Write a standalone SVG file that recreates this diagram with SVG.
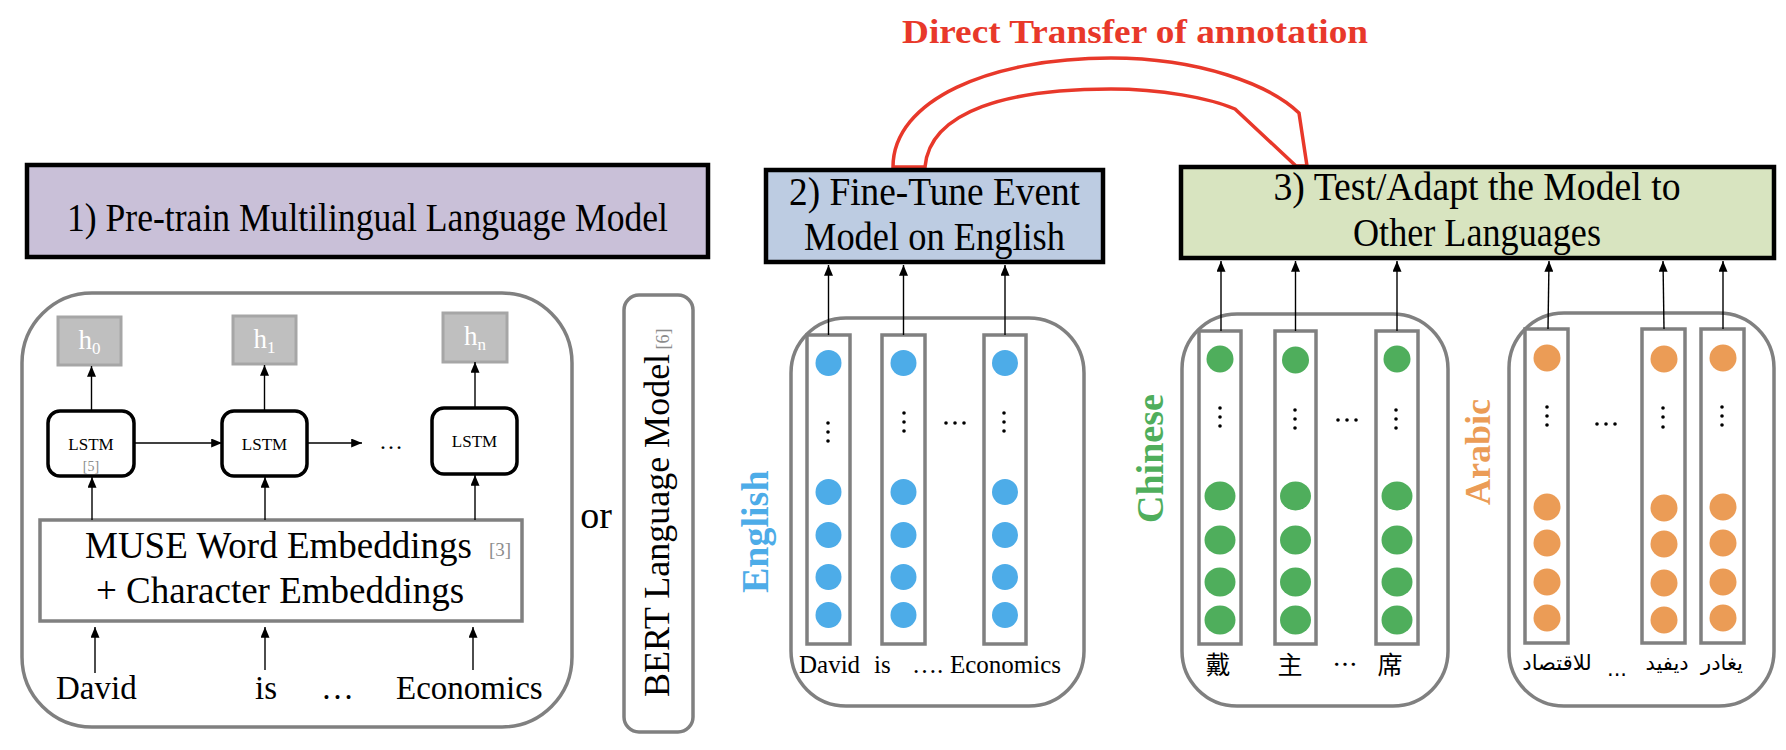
<svg xmlns="http://www.w3.org/2000/svg" width="1786" height="750" viewBox="0 0 1786 750">
<defs>
<marker id="ah" viewBox="0 0 12 10" refX="12" refY="5" markerWidth="11" markerHeight="9" markerUnits="userSpaceOnUse" orient="auto"><path d="M0,0 L12,5 L0,10 z" fill="#000"/></marker>
</defs>
<style>
.serif{font-family:"Liberation Serif","Times New Roman",serif;fill:#000}
.box{stroke:#000;stroke-width:4.5}
.cont{fill:none;stroke:#808080;stroke-width:3.5}
.col{fill:#fff;stroke:#808080;stroke-width:3.5}
.arr{stroke:#000;stroke-width:1.4;fill:none;marker-end:url(#ah)}
.hbox{fill:#BFBFBF;stroke:#A6A6A6;stroke-width:3}
.htxt{font-family:"Liberation Serif",serif;fill:#fff;font-size:27px}
.lstm{fill:#fff;stroke:#000;stroke-width:3.5}
.ref{fill:#8c8c8c}
.bd{fill:#4DACE8}.gd{fill:#4FAE5C}.od{fill:#EB9C56}
.dot{fill:#000}
.lbl{font-family:"Liberation Serif",serif;font-weight:bold}
.cjk{font-family:"Noto Sans CJK SC",sans-serif;font-size:25px;fill:#000}
.ar{font-family:"DejaVu Sans",sans-serif;font-size:21px;fill:#000}
</style>

<g id="transfer">
<text x="902" y="43" font-family="Liberation Serif, serif" font-weight="bold" font-size="33" fill="#E8382A" textLength="466" lengthAdjust="spacingAndGlyphs">Direct Transfer of annotation</text>
<path d="M893,167 C893,100 990,58 1111,58 C1200,58 1270,85 1299,113 L1307,166 L1296,166 L1235,109 C1210,98 1160,89 1111,89 C1010,89 930,110 925,167 Z" fill="none" stroke="#E8382A" stroke-width="3.5" stroke-linejoin="miter"/>
</g>

<g id="step1">
<rect x="27" y="165" width="681" height="92" fill="#C9C0D8" class="box"/>
<text class="serif" x="367.5" y="231" font-size="41" text-anchor="middle" textLength="601" lengthAdjust="spacingAndGlyphs">1) Pre-train Multilingual Language Model</text>
</g>

<g id="step2">
<rect x="766" y="170" width="337" height="92" fill="#BDCCE2" class="box"/>
<text class="serif" x="934.5" y="205" font-size="39" text-anchor="middle" textLength="291" lengthAdjust="spacingAndGlyphs">2) Fine-Tune Event</text>
<text class="serif" x="934.5" y="250" font-size="39" text-anchor="middle" textLength="261" lengthAdjust="spacingAndGlyphs">Model on English</text>
</g>

<g id="step3">
<rect x="1181" y="167" width="593" height="91" fill="#D8E4C0" class="box"/>
<text class="serif" x="1477" y="200" font-size="39" text-anchor="middle" textLength="407" lengthAdjust="spacingAndGlyphs">3) Test/Adapt the Model to</text>
<text class="serif" x="1477" y="246" font-size="39" text-anchor="middle" textLength="248" lengthAdjust="spacingAndGlyphs">Other Languages</text>
</g>

<g id="lstm-model">
<rect x="22" y="293" width="550" height="434" rx="70" class="cont"/>
<g id="h0"><rect x="58" y="317" width="63" height="48" class="hbox"/><text class="htxt" x="89.5" y="349" text-anchor="middle">h<tspan font-size="17" dy="5">0</tspan></text></g>
<g id="h1"><rect x="233" y="316" width="63" height="48" class="hbox"/><text class="htxt" x="264.5" y="348" text-anchor="middle">h<tspan font-size="17" dy="5">1</tspan></text></g>
<g id="hn"><rect x="443" y="313" width="64" height="49" class="hbox"/><text class="htxt" x="475" y="345" text-anchor="middle">h<tspan font-size="17" dy="5">n</tspan></text></g>
<g id="lstm1"><rect x="48" y="411" width="86" height="65" rx="12" class="lstm"/><text class="serif" x="91" y="450" font-size="17" text-anchor="middle">LSTM</text><text class="ref" font-family="Liberation Serif, serif" x="91" y="471" font-size="14" text-anchor="middle">[5]</text></g>
<g id="lstm2"><rect x="222" y="411" width="85" height="65" rx="12" class="lstm"/><text class="serif" x="264.5" y="450" font-size="17" text-anchor="middle">LSTM</text></g>
<g id="lstm3"><rect x="432" y="408" width="85" height="66" rx="12" class="lstm"/><text class="serif" x="474.5" y="447" font-size="17" text-anchor="middle">LSTM</text></g>
<text class="serif" x="391" y="449" font-size="24" text-anchor="middle">…</text>
<g id="muse"><rect x="40" y="520" width="482" height="101" fill="#fff" stroke="#808080" stroke-width="3.5"/>
<text class="serif" x="85" y="558" font-size="37">MUSE Word Embeddings</text>
<text class="ref" font-family="Liberation Serif, serif" x="489" y="556" font-size="19">[3]</text>
<text class="serif" x="96" y="603" font-size="37">+ Character Embeddings</text></g>
<text class="serif" x="56" y="699" font-size="33">David</text>
<text class="serif" x="255" y="699" font-size="33">is</text>
<text class="serif" x="321" y="699" font-size="33">…</text>
<text class="serif" x="396" y="699" font-size="33">Economics</text>
</g>

<text id="or" class="serif" x="596" y="528" font-size="38" text-anchor="middle">or</text>

<g id="bert">
<rect x="624" y="295" width="69" height="437" rx="15" fill="#fff" stroke="#808080" stroke-width="3.5"/>
<text class="serif" transform="translate(669,697) rotate(-90)" font-size="36">BERT Language Model<tspan class="ref" font-size="18"> [6]</tspan></text>
</g>

<g id="english">
<text class="lbl" transform="translate(768,593) rotate(-90)" font-size="38" fill="#4DACE8">English</text>
<rect x="791" y="318" width="293" height="388" rx="55" class="cont"/>
<rect x="807" y="335" width="43" height="309" class="col"/>
<rect x="882" y="335" width="43" height="309" class="col"/>
<rect x="984" y="335" width="42" height="309" class="col"/>
<g class="bd">
<circle cx="828.5" cy="363" r="13"/><circle cx="828.5" cy="492" r="13"/><circle cx="828.5" cy="535" r="13"/><circle cx="828.5" cy="577" r="13"/><circle cx="828.5" cy="615" r="13"/>
<circle cx="903.5" cy="363" r="13"/><circle cx="903.5" cy="492" r="13"/><circle cx="903.5" cy="535" r="13"/><circle cx="903.5" cy="577" r="13"/><circle cx="903.5" cy="615" r="13"/>
<circle cx="1005" cy="363" r="13"/><circle cx="1005" cy="492" r="13"/><circle cx="1005" cy="535" r="13"/><circle cx="1005" cy="577" r="13"/><circle cx="1005" cy="615" r="13"/>
</g>
<g class="dot">
<circle cx="828" cy="423" r="1.8"/><circle cx="828" cy="432" r="1.8"/><circle cx="828" cy="441" r="1.8"/>
<circle cx="904" cy="413" r="1.8"/><circle cx="904" cy="422" r="1.8"/><circle cx="904" cy="431" r="1.8"/>
<circle cx="1004" cy="413" r="1.8"/><circle cx="1004" cy="422" r="1.8"/><circle cx="1004" cy="431" r="1.8"/>
<circle cx="946" cy="423" r="1.8"/><circle cx="955" cy="423" r="1.8"/><circle cx="964" cy="423" r="1.8"/>
</g>
<text class="serif" x="799" y="673" font-size="25">David</text>
<text class="serif" x="874" y="673" font-size="25">is</text>
<text class="serif" x="912" y="673" font-size="25">….</text>
<text class="serif" x="950" y="673" font-size="25">Economics</text>
</g>

<g id="chinese">
<text class="lbl" transform="translate(1163,523) rotate(-90)" font-size="38" fill="#4FAE5C">Chinese</text>
<rect x="1182" y="314" width="266" height="392" rx="55" class="cont"/>
<rect x="1199" y="331" width="42" height="313" class="col"/>
<rect x="1275" y="331" width="41" height="313" class="col"/>
<rect x="1376" y="331" width="42" height="313" class="col"/>
<g class="gd">
<circle cx="1220" cy="359" r="13.5"/><ellipse cx="1220" cy="496" rx="15.5" ry="14.5"/><ellipse cx="1220" cy="540" rx="15.5" ry="14.5"/><ellipse cx="1220" cy="582" rx="15.5" ry="14.5"/><ellipse cx="1220" cy="620" rx="15.5" ry="14.5"/>
<circle cx="1295.5" cy="360" r="13.5"/><ellipse cx="1295.5" cy="496" rx="15.5" ry="14.5"/><ellipse cx="1295.5" cy="540" rx="15.5" ry="14.5"/><ellipse cx="1295.5" cy="582" rx="15.5" ry="14.5"/><ellipse cx="1295.5" cy="620" rx="15.5" ry="14.5"/>
<circle cx="1397" cy="359" r="13.5"/><ellipse cx="1397" cy="496" rx="15.5" ry="14.5"/><ellipse cx="1397" cy="540" rx="15.5" ry="14.5"/><ellipse cx="1397" cy="582" rx="15.5" ry="14.5"/><ellipse cx="1397" cy="620" rx="15.5" ry="14.5"/>
</g>
<g class="dot">
<circle cx="1220" cy="408" r="1.8"/><circle cx="1220" cy="417" r="1.8"/><circle cx="1220" cy="426" r="1.8"/>
<circle cx="1295" cy="410" r="1.8"/><circle cx="1295" cy="419" r="1.8"/><circle cx="1295" cy="428" r="1.8"/>
<circle cx="1396" cy="410" r="1.8"/><circle cx="1396" cy="419" r="1.8"/><circle cx="1396" cy="428" r="1.8"/>
<circle cx="1338" cy="420" r="1.8"/><circle cx="1347" cy="420" r="1.8"/><circle cx="1356" cy="420" r="1.8"/>
</g>
<text class="cjk" x="1218" y="674" text-anchor="middle">戴</text>
<text class="cjk" x="1290" y="674" text-anchor="middle">主</text>
<text class="cjk" x="1345" y="674" text-anchor="middle">…</text>
<text class="cjk" x="1390" y="674" text-anchor="middle">席</text>
</g>

<g id="arabic">
<text class="lbl" transform="translate(1490,505) rotate(-90)" font-size="36" fill="#EB9C56">Arabic</text>
<rect x="1509" y="313" width="265" height="393" rx="55" class="cont"/>
<rect x="1525" y="329" width="43" height="314" class="col"/>
<rect x="1642" y="329" width="43" height="314" class="col"/>
<rect x="1701" y="329" width="43" height="314" class="col"/>
<g class="od">
<circle cx="1547" cy="358" r="13.5"/><circle cx="1547" cy="507" r="13.5"/><circle cx="1547" cy="543" r="13.5"/><circle cx="1547" cy="582" r="13.5"/><circle cx="1547" cy="618" r="13.5"/>
<circle cx="1664" cy="359" r="13.5"/><circle cx="1664" cy="508" r="13.5"/><circle cx="1664" cy="544" r="13.5"/><circle cx="1664" cy="583" r="13.5"/><circle cx="1664" cy="620" r="13.5"/>
<circle cx="1723" cy="358" r="13.5"/><circle cx="1723" cy="507" r="13.5"/><circle cx="1723" cy="543" r="13.5"/><circle cx="1723" cy="582" r="13.5"/><circle cx="1723" cy="618" r="13.5"/>
</g>
<g class="dot">
<circle cx="1547" cy="407" r="1.8"/><circle cx="1547" cy="416" r="1.8"/><circle cx="1547" cy="425" r="1.8"/>
<circle cx="1663" cy="408" r="1.8"/><circle cx="1663" cy="417" r="1.8"/><circle cx="1663" cy="427" r="1.8"/>
<circle cx="1722" cy="407" r="1.8"/><circle cx="1722" cy="416" r="1.8"/><circle cx="1722" cy="425" r="1.8"/>
<circle cx="1597" cy="424" r="1.8"/><circle cx="1606" cy="424" r="1.8"/><circle cx="1615" cy="424" r="1.8"/>
</g>
<text class="ar" x="1557" y="670" text-anchor="middle">للاقتصاد</text>
<text class="ar" x="1617" y="676" text-anchor="middle">...</text>
<text class="ar" x="1667" y="670" text-anchor="middle">ديفيد</text>
<text class="ar" x="1722" y="670" text-anchor="middle">يغادر</text>
</g>

<g id="connectors">
<line class="arr" x1="91.5" y1="411" x2="91.5" y2="366"/>
<line class="arr" x1="264.5" y1="411" x2="264.5" y2="365"/>
<line class="arr" x1="475" y1="408" x2="475" y2="362"/>
<line class="arr" x1="134" y1="443" x2="222" y2="443"/>
<line class="arr" x1="307" y1="443" x2="362" y2="443"/>
<line class="arr" x1="92" y1="520" x2="92" y2="477"/>
<line class="arr" x1="265" y1="520" x2="265" y2="477"/>
<line class="arr" x1="475" y1="520" x2="475" y2="475"/>
<line class="arr" x1="95" y1="673" x2="95" y2="627"/>
<line class="arr" x1="265" y1="670" x2="265" y2="627"/>
<line class="arr" x1="473" y1="670" x2="473" y2="627"/>
<line class="arr" x1="828.5" y1="335" x2="828.5" y2="265"/>
<line class="arr" x1="903.5" y1="335" x2="903.5" y2="265"/>
<line class="arr" x1="1005" y1="335" x2="1005" y2="265"/>
<line class="arr" x1="1221" y1="331" x2="1221" y2="261"/>
<line class="arr" x1="1295.5" y1="331" x2="1295.5" y2="261"/>
<line class="arr" x1="1397" y1="331" x2="1397" y2="261"/>
<line class="arr" x1="1548" y1="329" x2="1549" y2="261"/>
<line class="arr" x1="1664" y1="329" x2="1663" y2="261"/>
<line class="arr" x1="1723" y1="329" x2="1723" y2="261"/>
</g>
</svg>
